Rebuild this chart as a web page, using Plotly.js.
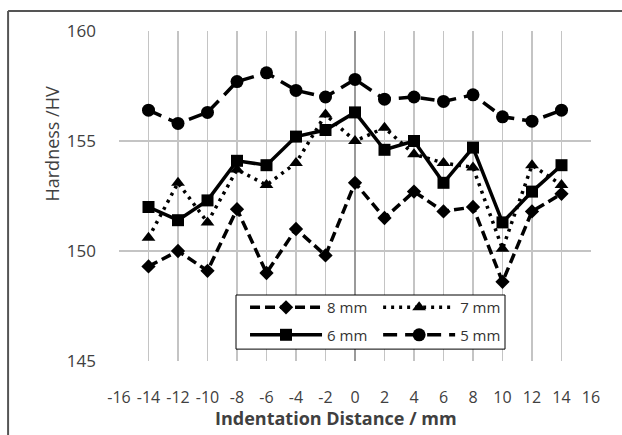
<!DOCTYPE html>
<html>
<head>
<meta charset="utf-8">
<script src="https://cdn.plot.ly/plotly-3.0.1.min.js"></script>
<style>
html,body{margin:0;padding:0;background:#fff;}
#chart{width:622px;height:435px;}
</style>
</head>
<body>
<div id="chart"></div>
<script>
var distance = [-14, -12, -10, -8, -6, -4, -2, 0, 2, 4, 6, 8, 10, 12, 14];
var hv8mm = [149.3, 150.0, 149.1, 151.9, 149.0, 151.0, 149.8, 153.1, 151.5, 152.7, 151.8, 152.0, 148.6, 151.8, 152.6];
var hv7mm = [150.6, 153.1, 151.3, 153.7, 153.0, 154.0, 156.2, 155.0, 155.6, 154.4, 154.0, 153.8, 150.1, 153.9, 153.0];
var hv6mm = [152.0, 151.4, 152.3, 154.1, 153.9, 155.2, 155.5, 156.3, 154.6, 155.0, 153.1, 154.7, 151.3, 152.7, 153.9];
var hv5mm = [156.4, 155.8, 156.3, 157.7, 158.1, 157.3, 157.0, 157.8, 156.9, 157.0, 156.8, 157.1, 156.1, 155.9, 156.4];
var seriesNames = ['8 mm', '7 mm', '6 mm', '5 mm'];
var xTicks = [-16, -14, -12, -10, -8, -6, -4, -2, 0, 2, 4, 6, 8, 10, 12, 14, 16];
var yTicks = [145, 150, 155, 160];

var FONT = 'Open Sans, Noto Sans, sans-serif';
var traces = [
  {x: distance, y: hv8mm, name: seriesNames[0], mode: 'lines+markers', legend: 'legend', legendgroup: 'a',
   line: {color: '#000', width: 3.5, dash: '10px,5px'},
   marker: {symbol: 'diamond', size: 11, color: '#000'}},
  {x: distance, y: hv7mm, name: seriesNames[1], mode: 'lines+markers', legend: 'legend2', legendgroup: 'b',
   line: {color: '#000', width: 3.5, dash: '3px,5px'},
   marker: {symbol: 'triangle-up', size: 12, color: '#000'}},
  {x: distance, y: hv6mm, name: seriesNames[2], mode: 'lines+markers', legend: 'legend', legendgroup: 'c',
   line: {color: '#000', width: 3.5},
   marker: {symbol: 'square', size: 12, color: '#000'}},
  {x: distance, y: hv5mm, name: seriesNames[3], mode: 'lines+markers', legend: 'legend2', legendgroup: 'd',
   line: {color: '#000', width: 3.5, dash: '14px,8px'},
   marker: {symbol: 'circle', size: 13, color: '#000'}}
];

var legendCommon = {
  orientation: 'v', yanchor: 'top', xanchor: 'left', y: 0.212,
  bgcolor: 'rgba(0,0,0,0)', borderwidth: 0,
  font: {family: FONT, size: 15, color: '#333'},
  itemwidth: 72, tracegroupgap: 5
};

var layout = {
  width: 622, height: 435,
  margin: {l: 119, r: 31, t: 31, b: 74},
  paper_bgcolor: '#fff', plot_bgcolor: '#fff',
  showlegend: true,
  font: {family: FONT, color: '#404040', size: 16},
  xaxis: {
    range: [-16, 16], tickvals: xTicks, ticktext: xTicks.map(String),
    showgrid: true, gridcolor: '#c4c4c4', gridwidth: 1.5,
    zeroline: true, zerolinecolor: '#9a9a9a', zerolinewidth: 1.5,
    showline: false, ticks: '', ticklabelstandoff: 25,
    tickfont: {family: FONT, size: 16, color: '#404040'},
    fixedrange: true
  },
  yaxis: {
    range: [145, 160], tickvals: yTicks, ticktext: yTicks.map(String),
    showgrid: true, gridcolor: '#c4c4c4', gridwidth: 1.5,
    zeroline: false, showline: false, ticks: '', ticklabelstandoff: 22,
    tickfont: {family: FONT, size: 17, color: '#404040'},
    fixedrange: true
  },
  legend: Object.assign({}, legendCommon, {x: 0.267}),
  legend2: Object.assign({}, legendCommon, {x: 0.549}),
  annotations: [
    {text: 'Hardness /HV', textangle: -90, showarrow: false,
     xref: 'paper', yref: 'paper', x: -0.142, y: 0.659,
     xanchor: 'center', yanchor: 'middle',
     font: {family: FONT, size: 18, color: '#404040'}},
    {text: '<b>Indentation Distance / mm</b>', showarrow: false,
     xref: 'paper', yref: 'paper', x: 0.46, y: -0.172,
     xanchor: 'center', yanchor: 'middle',
     font: {family: FONT, size: 18, color: '#404040'}}
  ],
  shapes: [
    {type: 'rect', xref: 'paper', yref: 'paper', x0: 0.2479, x1: 0.8178, y0: 0.036, y1: 0.2,
     layer: 'above', fillcolor: '#fff', line: {color: '#000', width: 1}},
    {type: 'line', xref: 'paper', yref: 'paper', x0: -0.235, x1: 1.1, y0: 1.0606, y1: 1.0606,
     line: {color: '#555', width: 2}},
    {type: 'line', xref: 'paper', yref: 'paper', x0: -0.235, x1: -0.235, y0: 1.0606, y1: -0.3,
     line: {color: '#555', width: 2}}
  ]
};

Plotly.newPlot('chart', traces, layout, {displayModeBar: false, staticPlot: true});
</script>
</body>
</html>
